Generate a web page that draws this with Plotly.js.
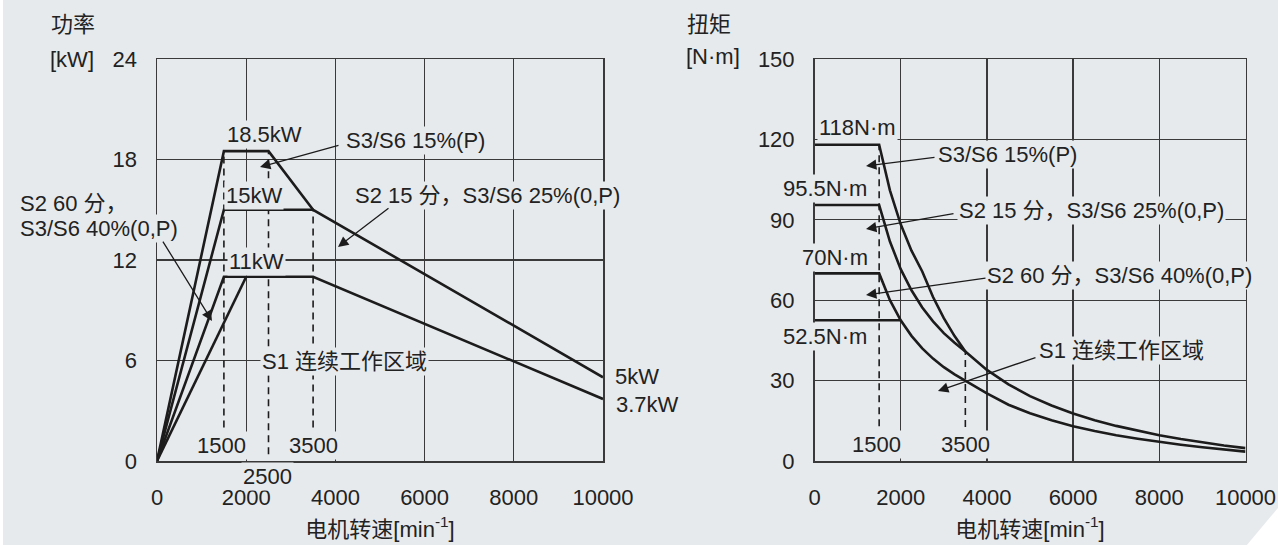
<!DOCTYPE html>
<html>
<head>
<meta charset="utf-8">
<script src="https://cdn.plot.ly/plotly-3.0.1.min.js"></script>
<style>html,body{margin:0;padding:0;background:#e7eaed;}#chart{width:1278px;height:545px;}</style>
</head>
<body>
<div id="chart"></div>
<script>
// ---------- Power chart (left) ----------
const s3_15_speed = [0, 1500, 2500, 3500];
const s3_15_power = [0, 18.5, 18.5, 15];
const s2_15_speed = [0, 1500, 3500, 10000];
const s2_15_power = [0, 15, 15, 5];
const s2_60_speed = [0, 1500, 3500, 10000];
const s2_60_power = [0, 11, 11, 3.7];
const s1_speed = [0, 2000];
const s1_power = [0, 11];
const powerDashSpeed = [1500, 2500, 3500];
const powerDashTop = [18.5, 18.5, 15];
const powerDashBottom = [2, 0.4, 2];
const powerTicks = [0, 6, 12, 18, 24];

// ---------- Torque chart (right) ----------
const tq_s3_15_speed = [0, 1500, 1750, 2000, 2250, 2500, 2750, 3000, 3250, 3500];
const tq_s3_15 = [118, 118, 101, 88.3, 78.5, 70.7, 61.2, 53.3, 46.6, 40.9];
const tq_s2_15_speed = [0, 1500, 1750, 2000, 2250, 2500, 2750, 3000, 3250, 3500, 4000, 4500, 5000, 5500, 6000, 6500, 7000, 7500, 8000, 8500, 9000, 9500, 10000];
const tq_s2_15 = [95.5, 95.5, 81.9, 71.6, 63.7, 57.3, 52.1, 47.7, 44.1, 40.9, 34.0, 28.6, 24.2, 20.7, 17.7, 15.2, 13.1, 11.3, 9.6, 8.2, 6.9, 5.8, 4.8];
const tq_s2_60_speed = [0, 1500, 1750, 2000, 2250, 2500, 2750, 3000, 3250, 3500, 4000, 4500, 5000, 5500, 6000, 6500, 7000, 7500, 8000, 8500, 9000, 9500, 10000];
const tq_s2_60 = [70, 70, 60.0, 52.5, 46.7, 42.0, 38.2, 35.0, 32.3, 30.0, 25.2, 21.0, 17.8, 15.2, 13.0, 11.2, 9.6, 8.3, 7.1, 6.05, 5.1, 4.3, 3.5];
const tq_s1_speed = [0, 2000];
const tq_s1 = [52.5, 52.5];
const torqueDashSpeed = [1500, 3500];
const torqueDashTop = [118, 41];
const torqueDashBottom = [13, 12.7];
const torqueTicks = [0, 30, 60, 90, 120, 150];
const speedTicks = [0, 2000, 4000, 6000, 8000, 10000];
const speedTickText = ['0', '2000', '4000', '6000', '8000', '10000'];

const BG = '#e7eaed';
const INK = '#1c1c1c';
const GRID = '#3a3a3a';
const FONT = '"Liberation Sans", Arial, "Noto Sans CJK SC", sans-serif';

function curve(x, y, xa, ya) {
  return {x: x, y: y, xaxis: xa, yaxis: ya, mode: 'lines', type: 'scatter',
          line: {color: INK, width: 2.6}, hoverinfo: 'skip', showlegend: false};
}
const traces = [];
traces.push(curve(s3_15_speed, s3_15_power, 'x', 'y'));
traces.push(curve(s2_15_speed, s2_15_power, 'x', 'y'));
traces.push(curve(s2_60_speed, s2_60_power, 'x', 'y'));
traces.push(curve(s1_speed, s1_power, 'x', 'y'));
powerDashSpeed.forEach((s, i) => {
  traces.push({x: [s, s], y: [powerDashBottom[i], powerDashTop[i]], xaxis: 'x', yaxis: 'y',
    mode: 'lines', type: 'scatter', line: {color: INK, width: 1.6, dash: '7px,5px'}, hoverinfo: 'skip', showlegend: false});
});
traces.push(curve(tq_s3_15_speed, tq_s3_15, 'x2', 'y2'));
traces.push(curve(tq_s2_15_speed, tq_s2_15, 'x2', 'y2'));
traces.push(curve(tq_s2_60_speed, tq_s2_60, 'x2', 'y2'));
traces.push(curve(tq_s1_speed, tq_s1, 'x2', 'y2'));
torqueDashSpeed.forEach((s, i) => {
  traces.push({x: [s, s], y: [torqueDashBottom[i], torqueDashTop[i]], xaxis: 'x2', yaxis: 'y2',
    mode: 'lines', type: 'scatter', line: {color: INK, width: 1.6, dash: '7px,5px'}, hoverinfo: 'skip', showlegend: false});
});

function xAxis(domain, anchor) {
  return {domain: domain, anchor: anchor, range: [0, 10000], tickvals: speedTicks, ticktext: speedTickText,
    showgrid: true, gridcolor: GRID, gridwidth: 1.2, zeroline: false,
    showline: true, mirror: true, linecolor: GRID, linewidth: 1.5,
    ticks: 'outside', ticklen: 16, tickcolor: 'rgba(0,0,0,0)',
    tickfont: {size: 22, color: '#222', family: FONT},
    title: {text: '电机转速[min<sup>-1</sup>]', font: {size: 22, color: '#222', family: FONT}, standoff: 12}};
}
function yAxis(domain, anchor, range, ticks) {
  return {domain: domain, anchor: anchor, range: range, tickvals: ticks,
    showgrid: true, gridcolor: GRID, gridwidth: 1.2, zeroline: false,
    showline: true, mirror: true, linecolor: GRID, linewidth: 1.5,
    ticks: 'outside', ticklen: 14, tickcolor: 'rgba(0,0,0,0)',
    tickfont: {size: 22, color: '#222', family: FONT}};
}

function label(text, x, y, xref, yref, opts) {
  return Object.assign({text: text, x: x, y: y, xref: xref, yref: yref, showarrow: false,
    font: {size: 22, color: '#222', family: FONT}, bgcolor: BG, borderpad: 1,
    xanchor: 'center', yanchor: 'middle'}, opts || {});
}
function arrow(xh, yh, xt, yt, xref, yref) {
  return {x: xh, y: yh, ax: xt, ay: yt, xref: xref, yref: yref, axref: xref, ayref: yref,
    text: '', showarrow: true, arrowhead: 2, arrowsize: 1.6, arrowwidth: 1.3, arrowcolor: INK};
}

const annotations = [
  // left axis caption
  label('功率', 49/1278, 1 - 24/545, 'paper', 'paper', {xanchor: 'left'}),
  label('[kW]', 48/1278, 1 - 59/545, 'paper', 'paper', {xanchor: 'left'}),
  // left plot labels
  label('18.5kW', 2399, 19.52, 'x', 'y'),
  label('S3/S6 15%(P)', 5785, 19.16, 'x', 'y'),
  label('15kW', 2175, 15.88, 'x', 'y'),
  label('S2 15 分，S3/S6 25%(0,P)', 7399, 15.85, 'x', 'y'),
  label('11kW', 2242, 11.94, 'x', 'y'),
  label('S1 连续工作区域', 4215, 5.97, 'x', 'y'),
  label('1500', 1457, 0.95, 'x', 'y'),
  label('3500', 3498, 0.95, 'x', 'y'),
  label('2500', 267/1278, 1 - 476/545, 'paper', 'paper'),
  label('5kW', 613/1278, 1 - 376/545, 'paper', 'paper', {xanchor: 'left'}),
  label('3.7kW', 614/1278, 1 - 404.5/545, 'paper', 'paper', {xanchor: 'left'}),
  label('S2 60 分，', 18/1278, 1 - 203/545, 'paper', 'paper', {xanchor: 'left'}),
  label('S3/S6 40%(0,P)', 18/1278, 1 - 229/545, 'paper', 'paper', {xanchor: 'left'}),
  arrow(2309, 17.55, 4103, 18.87, 'x', 'y'),
  arrow(4058, 12.78, 5224, 15.16, 'x', 'y'),
  arrow(1233, 8.36, 112, 13.19, 'x', 'y'),
  // right axis caption
  label('扭矩', 685/1278, 1 - 24/545, 'paper', 'paper', {xanchor: 'left'}),
  label('[N·m]', 684/1278, 1 - 57/545, 'paper', 'paper', {xanchor: 'left'}),
  // right plot labels
  label('118N·m', 990, 124.3, 'x2', 'y2'),
  label('S3/S6 15%(P)', 4478, 114.2, 'x2', 'y2'),
  label('95.5N·m', 244, 101.5, 'x2', 'y2'),
  label('S2 15 分，S3/S6 25%(0,P)', 6436, 93.3, 'x2', 'y2'),
  label('70N·m', 477, 76.1, 'x2', 'y2'),
  label('S2 60 分，S3/S6 40%(0,P)', 7067, 69.4, 'x2', 'y2'),
  label('52.5N·m', 244, 46.6, 'x2', 'y2'),
  label('S1 连续工作区域', 7134, 41.4, 'x2', 'y2'),
  label('1500', 1427, 6.3, 'x2', 'y2'),
  label('3500', 3492, 6.3, 'x2', 'y2'),
  arrow(1195, 110.1, 2819, 113.4, 'x2', 'y2'),
  arrow(1195, 86.6, 3260, 92.4, 'x2', 'y2'),
  arrow(1195, 61.9, 4002, 68.3, 'x2', 'y2'),
  arrow(2865, 26.1, 5162, 38.8, 'x2', 'y2')
];

const layout = {
  width: 1278, height: 545,
  margin: {l: 0, r: 0, t: 0, b: 0},
  paper_bgcolor: BG, plot_bgcolor: BG,
  font: {family: FONT, color: '#222'},
  showlegend: false,
  xaxis: xAxis([157/1278, 603/1278], 'y'),
  yaxis: yAxis([1 - 461/545, 1 - 59/545], 'x', [0, 24], powerTicks),
  xaxis2: xAxis([814.5/1278, 1245.5/1278], 'y2'),
  yaxis2: yAxis([1 - 461/545, 1 - 59/545], 'x2', [0, 150], torqueTicks),
  annotations: annotations,
  shapes: [
    {type: 'path', xref: 'paper', yref: 'paper', path: 'M 0.9757 0 L 1 0 L 1 0.068 Z',
     fillcolor: '#ffffff', line: {width: 0}, layer: 'above'},
    {type: 'rect', xref: 'paper', yref: 'paper', x0: 0, x1: 3/1278, y0: 0, y1: 1,
     fillcolor: '#ffffff', line: {width: 0}, layer: 'above'}
  ]
};

Plotly.newPlot('chart', traces, layout, {staticPlot: true, displayModeBar: false});
</script>
</body>
</html>
